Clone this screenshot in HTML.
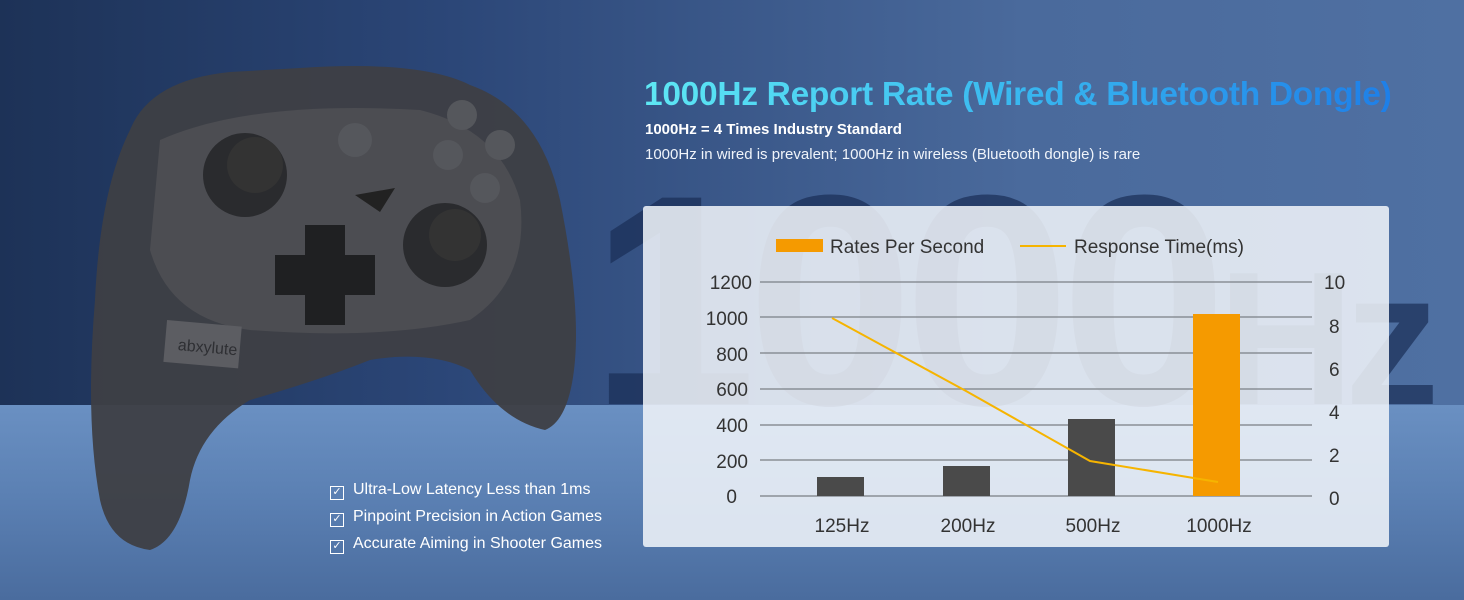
<!DOCTYPE html>
<html><head><meta charset="utf-8"><style>
body{margin:0;width:1464px;height:600px;overflow:hidden;font-family:"Liberation Sans","DejaVu Sans",sans-serif;}
#bg{position:absolute;left:0;top:0;width:1464px;height:600px;background:linear-gradient(90deg,#1d3257 0%,#2b4677 30%,#4a6a9c 70%,#4f70a2 100%);}
#floor{position:absolute;left:0;top:405px;width:1464px;height:195px;background:linear-gradient(180deg,#6a90c2 0%,#5a7fb2 50%,#4a6c9e 100%);}
.wm{position:absolute;left:590px;top:150px;font-size:300px;font-weight:bold;color:rgba(25,45,85,0.7);letter-spacing:-10px;line-height:1;white-space:nowrap;}
.wm span{font-size:190px;}
#panel{position:absolute;left:643px;top:206px;width:746px;height:341px;background:rgba(242,246,250,0.86);border-radius:3px;}
h1{position:absolute;left:644px;top:76px;margin:0;font-size:33.5px;font-weight:bold;letter-spacing:-0.3px;background:linear-gradient(90deg,#5ee8f4,#39b8f0 50%,#1e7fe8);-webkit-background-clip:text;color:transparent;white-space:nowrap;}
.s1{position:absolute;left:645px;top:121px;color:#fff;font-weight:bold;font-size:15px;}
.s2{position:absolute;left:645px;top:146px;color:#f0f4fa;font-size:15px;}
.chk{position:absolute;left:330px;color:#fff;font-size:16px;}
.chk b{display:inline-block;width:12px;height:12px;border:1.5px solid #fff;margin-right:9px;vertical-align:-1px;font-size:11px;line-height:11px;text-align:center;font-weight:bold;}
</style></head><body>
<div id="bg"></div><div id="floor"></div>
<div class="wm">1000<span>Hz</span></div>
<div id="panel"></div>
<svg style="position:absolute;left:0;top:0" width="1464" height="600">
<g font-family="Liberation Sans,sans-serif" font-size="19" fill="#333">
<rect x="776" y="239" width="47" height="13" fill="#f59a00"/>
<text x="830" y="253">Rates Per Second</text>
<line x1="1020" y1="246" x2="1066" y2="246" stroke="#f6b400" stroke-width="2"/>
<text x="1074" y="253">Response Time(ms)</text>
<g stroke="#8a8f96" stroke-width="1.5">
<line x1="760" y1="282" x2="1312" y2="282"/><line x1="760" y1="317" x2="1312" y2="317"/>
<line x1="760" y1="353" x2="1312" y2="353"/><line x1="760" y1="389" x2="1312" y2="389"/>
<line x1="760" y1="425" x2="1312" y2="425"/><line x1="760" y1="460" x2="1312" y2="460"/>
<line x1="760" y1="496" x2="1312" y2="496"/></g>
<g text-anchor="end"><text x="752" y="289">1200</text><text x="748" y="325">1000</text><text x="748" y="361">800</text><text x="748" y="396">600</text><text x="748" y="432">400</text><text x="748" y="468">200</text><text x="737" y="503">0</text></g>
<g><text x="1324" y="289">10</text><text x="1329" y="333">8</text><text x="1329" y="376">6</text><text x="1329" y="419">4</text><text x="1329" y="462">2</text><text x="1329" y="505">0</text></g>
<rect x="817" y="477" width="47" height="19" fill="#4a4a4a"/>
<rect x="943" y="466" width="47" height="30" fill="#4a4a4a"/>
<rect x="1068" y="419" width="47" height="77" fill="#4a4a4a"/>
<rect x="1193" y="314" width="47" height="182" fill="#f59a00"/>
<polyline points="832,318 966,391 1090,461 1218,482" fill="none" stroke="#f6b400" stroke-width="2"/>
<g text-anchor="middle"><text x="842" y="532">125Hz</text><text x="968" y="532">200Hz</text><text x="1093" y="532">500Hz</text><text x="1219" y="532">1000Hz</text></g>
</g>
<path d="M130,130 Q150,80 230,72 L300,68 Q420,60 470,85 Q540,110 560,200 Q580,300 575,360 Q570,420 545,430 Q500,420 470,370 Q430,350 370,360 Q320,380 250,400 Q200,430 190,480 Q180,540 150,550 Q110,545 100,500 Q85,420 95,300 Q100,190 130,130 Z" fill="#3e3f44" opacity="0.95"/>
<path d="M160,140 Q250,100 420,110 Q500,130 520,200 Q530,280 470,320 Q380,340 250,330 Q170,320 150,250 Z" fill="#4c4d52"/>
<circle cx="245" cy="175" r="42" fill="#2a2b2e"/><circle cx="255" cy="165" r="28" fill="#333"/>
<circle cx="445" cy="245" r="42" fill="#2a2b2e"/><circle cx="455" cy="235" r="26" fill="#333"/>
<path d="M305,225 h40 v30 h30 v40 h-30 v30 h-40 v-30 h-30 v-40 h30 z" fill="#1f2022"/>
<circle cx="355" cy="140" r="17" fill="#55575c"/>
<circle cx="462" cy="115" r="15" fill="#55575c"/><circle cx="448" cy="155" r="15" fill="#55575c"/><circle cx="500" cy="145" r="15" fill="#55575c"/><circle cx="485" cy="188" r="15" fill="#55575c"/>
<polygon points="355,195 395,188 380,212" fill="#222"/>
<rect x="165" y="323" width="75" height="42" fill="#5c5d62" transform="rotate(5 200 345)"/>
<text x="178" y="352" font-size="16" fill="#2e2f33" transform="rotate(5 200 345)">abxylute</text>
</svg>
<h1>1000Hz Report Rate (Wired &amp; Bluetooth Dongle)</h1>
<div class="s1">1000Hz = 4 Times Industry Standard</div>
<div class="s2">1000Hz in wired is prevalent; 1000Hz in wireless (Bluetooth dongle) is rare</div>
<div class="chk" style="top:481px"><b>✓</b>Ultra-Low Latency Less than 1ms</div>
<div class="chk" style="top:508px"><b>✓</b>Pinpoint Precision in Action Games</div>
<div class="chk" style="top:535px"><b>✓</b>Accurate Aiming in Shooter Games</div>
</body></html>
